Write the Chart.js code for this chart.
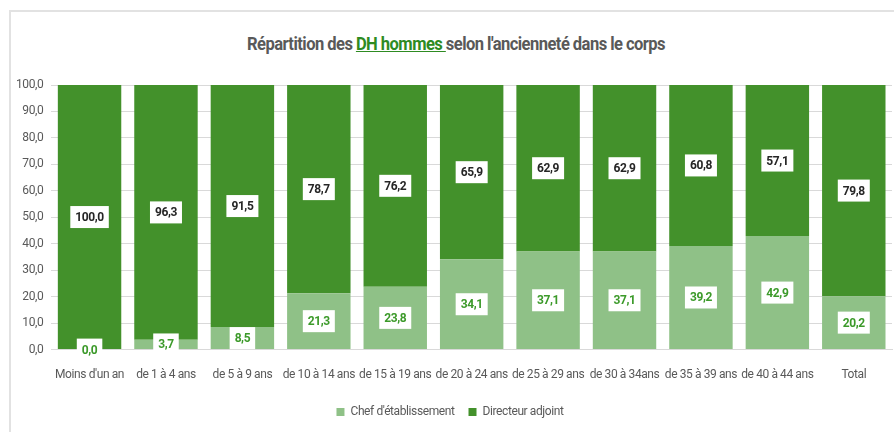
<!DOCTYPE html>
<html>
<head>
<meta charset="utf-8">
<script src="https://cdn.jsdelivr.net/npm/chart.js@4/dist/chart.umd.min.js"></script>
<style>
  html, body { margin: 0; padding: 0; background: #fff; }
  #wrap { position: relative; width: 894px; height: 432px; }
  #frame { position: absolute; left: 9px; top: 10px; right: 0; bottom: 0;
           border-left: 2px solid #e2e2e2; border-top: 2px solid #e2e2e2; }
  #title { position: absolute; left: 0; width: 912px; top: 33px; text-align: center;
           font-family: "Roboto", sans-serif; letter-spacing: -0.6px;
           transform: scaleX(0.92); transform-origin: 456px 0;
           font-weight: bold; font-size: 18px; color: #595959; }
  #title u { color: #2e8b22; text-decoration-color: #2e8b22; }
  canvas { position: absolute; left: 0; top: 0; }
</style>
</head>
<body>
<div id="wrap">
  <div id="frame"></div>
  <div id="title">Répartition des <u>DH hommes </u>selon l'ancienneté dans le corps</div>
  <canvas id="c" width="894" height="432"></canvas>
</div>
<script>
const categories = ["Moins d'un an", "de 1 à 4 ans", "de 5 à 9 ans", "de 10 à 14 ans", "de 15 à 19 ans",
  "de 20 à 24 ans", "de 25 à 29 ans", "de 30 à 34ans", "de 35 à 39 ans", "de 40 à 44 ans", "Total"];
const chefEtab = [0.0, 3.7, 8.5, 21.3, 23.8, 34.1, 37.1, 37.1, 39.2, 42.9, 20.2];
const directeurAdjoint = [100.0, 96.3, 91.5, 78.7, 76.2, 65.9, 62.9, 62.9, 60.8, 57.1, 79.8];

const FONT = '"Roboto", sans-serif';
const SPACING = '-0.4px';
const fmt = v => v.toFixed(1).replace('.', ',');

// narrower text everywhere, to get closer to the condensed original font
const tightText = {
  id: 'tightText',
  beforeUpdate(chart) { chart.ctx.letterSpacing = SPACING; },
  beforeDraw(chart) { chart.ctx.letterSpacing = SPACING; }
};

const boxLabels = {
  id: 'boxLabels',
  afterDatasetsDraw(chart) {
    const ctx = chart.ctx;
    ctx.save();
    ctx.font = 'bold 12px ' + FONT;
    ctx.textAlign = 'center';
    ctx.textBaseline = 'middle';
    chart.data.datasets.forEach((ds, i) => {
      const meta = chart.getDatasetMeta(i);
      meta.data.forEach((bar, j) => {
        const txt = fmt(ds.data[j]);
        const cy = (bar.y + bar.base) / 2;
        const w = ctx.measureText(txt).width + 10;
        const h = 22;
        ctx.fillStyle = '#fff';
        ctx.fillRect(bar.x - w / 2, cy - h / 2, w, h);
        ctx.fillStyle = i === 0 ? '#3c9a2a' : '#262626';
        ctx.fillText(txt, bar.x, cy + 1);
      });
    });
    ctx.restore();
  }
};

new Chart(document.getElementById('c'), {
  type: 'bar',
  data: {
    labels: categories,
    datasets: [
      { label: "Chef d'établissement", data: chefEtab, backgroundColor: '#8fc187' },
      { label: 'Directeur adjoint', data: directeurAdjoint, backgroundColor: '#43912b' }
    ]
  },
  options: {
    responsive: false,
    animation: false,
    layout: { padding: { top: 85, left: 8, right: 2, bottom: 4 } },
    datasets: { bar: { categoryPercentage: 0.83, barPercentage: 1 } },
    scales: {
      x: {
        stacked: true,
        grid: { display: false },
        border: { color: '#d9d9d9' },
        ticks: { color: '#595959', font: { family: FONT, size: 12 }, maxRotation: 0, autoSkip: false, padding: 10 }
      },
      y: {
        stacked: true,
        min: 0, max: 100,
        ticks: { stepSize: 10, color: '#595959', font: { family: FONT, size: 12 }, callback: v => fmt(v), padding: 8 },
        grid: { color: '#d9d9d9', drawTicks: false },
        border: { display: false }
      }
    },
    plugins: {
      legend: {
        position: 'bottom',
        labels: { boxWidth: 8, boxHeight: 8, color: '#595959', font: { family: FONT, size: 12 }, padding: 14 }
      },
      tooltip: { enabled: false }
    }
  },
  plugins: [tightText, boxLabels]
});
</script>
</body>
</html>
